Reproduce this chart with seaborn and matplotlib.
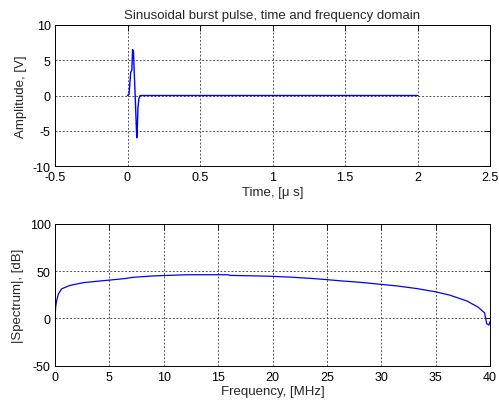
import numpy as np
import pandas as pd
import matplotlib
matplotlib.use("Agg")
import matplotlib.pyplot as plt
import seaborn as sns

# ---- data ----
pulse_t = [0.0, 0.011, 0.022, 0.030, 0.035, 0.041, 0.047, 0.053, 0.060, 0.064, 0.068, 0.072, 0.078, 0.087, 2.0]
pulse_v = [0.0, 0.2, 3.3, 3.6, 6.5, 6.3, 3.0, 0.0, -4.0, -6.0, -4.5, -1.8, -0.5, 0.0, 0.0]

spec_f = [0.0, 0.0, 0.06, 0.15, 0.31, 0.61, 1.38, 2.6, 3.8, 4.9, 6.4, 7.2, 9.0, 12.1, 15.9, 16.1,
          17.9, 19.8, 21.9, 23.8, 25.0, 26.4, 27.6, 28.7, 29.9, 31.4, 33.3, 35.0, 36.3, 37.9,
          38.9, 39.5, 39.6, 39.7, 39.9, 40.0]
spec_db = [-60.0, 0.0, 11.8, 18.9, 26.0, 31.4, 35.0, 37.9, 39.3, 40.5, 42.2, 43.6, 45.0, 46.3, 46.3, 45.6,
           45.2, 44.7, 43.6, 42.2, 41.1, 39.7, 38.7, 37.6, 36.2, 34.5, 31.6, 28.2, 24.7, 18.4,
           12.0, 6.0, 0.0, -5.6, -7.0, -3.5]

t_ticks = [-0.5, 0, 0.5, 1, 1.5, 2, 2.5]
t_ticklabels = ["-0.5", "0", "0.5", "1", "1.5", "2", "2.5"]
v_ticks = [-10, -5, 0, 5, 10]
v_ticklabels = ["-10", "-5", "0", "5", "10"]
f_ticks = [0, 5, 10, 15, 20, 25, 30, 35, 40]
f_ticklabels = ["0", "5", "10", "15", "20", "25", "30", "35", "40"]
db_ticks = [-50, 0, 50, 100]
db_ticklabels = ["-50", "0", "50", "100"]

title = "Sinusoidal burst pulse, time and frequency domain"

# ---- styling ----
sns.set_style("white")
plt.rcParams["font.family"] = ["Liberation Sans", "DejaVu Sans"]
plt.rcParams["font.size"] = 9

fig = plt.figure(figsize=(4.99, 4.02), dpi=100)
ax1 = fig.add_axes([55 / 499, 1 - 167 / 402, 435 / 499, 141 / 402])
ax2 = fig.add_axes([55 / 499, 1 - 366.7 / 402, 435 / 499, 141.7 / 402])

df1 = pd.DataFrame({"t": pulse_t, "v": pulse_v})
df2 = pd.DataFrame({"f": spec_f, "db": spec_db})

sns.lineplot(data=df1, x="t", y="v", ax=ax1, color="#0000ff", lw=1.0,
             estimator=None, sort=False)
sns.lineplot(data=df2, x="f", y="db", ax=ax2, color="#0000ff", lw=0.9,
             estimator=None, sort=False)


def style(ax, xt, xtl, yt, ytl, xlim, ylim, xlabel, ylabel):
    ax.set_xlim(*xlim)
    ax.set_ylim(*ylim)
    ax.set_xticks(xt)
    ax.set_xticklabels(xtl)
    ax.set_yticks(yt)
    ax.set_yticklabels(ytl)
    ax.set_xlabel(xlabel, fontsize=9.5, labelpad=2)
    ax.set_ylabel(ylabel, fontsize=9.5, labelpad=4)
    ax.grid(True, color="#333333", linestyle=(0, (2.2, 2.2)), linewidth=0.6)
    ax.tick_params(direction="in", length=4, width=0.6, top=True, right=True,
                   labelsize=9, pad=3, colors="black")
    ax.tick_params(axis="x", pad=3.5)
    for s in ax.spines.values():
        s.set_visible(True)
        s.set_color("black")
        s.set_linewidth(0.7)


style(ax1, t_ticks, t_ticklabels, v_ticks, v_ticklabels, (-0.5, 2.5), (-10, 10),
      "Time, [\u03bc s]", "Amplitude, [V]")
style(ax2, f_ticks, f_ticklabels, db_ticks, db_ticklabels, (0, 40), (-50, 100),
      "Frequency, [MHz]", "|Spectrum|, [dB]")
ax1.set_title(title, fontsize=9.5, pad=5)

fig.savefig("out.png", dpi=100, facecolor="white")
